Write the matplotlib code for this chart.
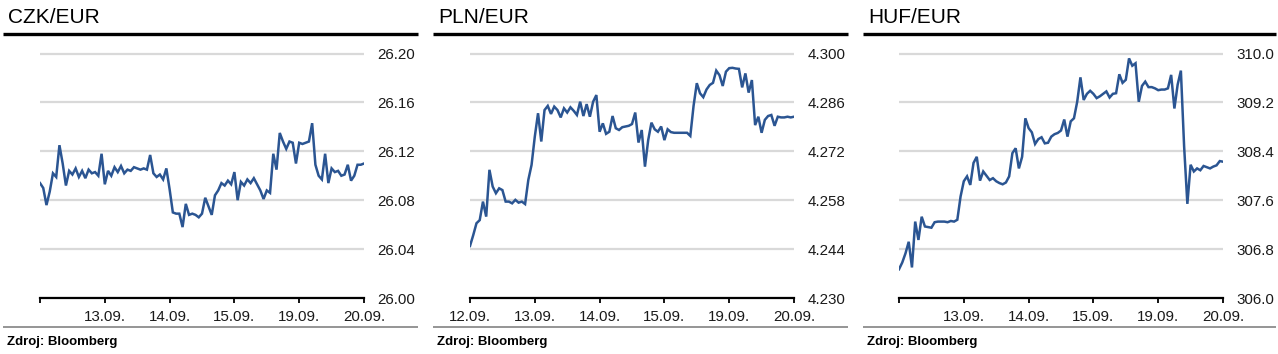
import numpy as np
import matplotlib
matplotlib.use("Agg")
import matplotlib.pyplot as plt
from matplotlib.lines import Line2D

plt.rcParams['font.family'] = ['Liberation Sans', 'DejaVu Sans']

W, H = 1278, 354

# --- data (20 samples per trading day) ---
titles = ["CZK/EUR", "PLN/EUR", "HUF/EUR"]
source = "Zdroj: Bloomberg"

day_labels_czk = ["", "13.09.", "14.09.", "15.09.", "19.09.", "20.09."]
day_labels_pln = ["12.09.", "13.09.", "14.09.", "15.09.", "19.09.", "20.09."]
day_labels_huf = ["", "13.09.", "14.09.", "15.09.", "19.09.", "20.09."]

czk_ticks = [26.00, 26.04, 26.08, 26.12, 26.16, 26.20]
pln_ticks = [4.230, 4.244, 4.258, 4.272, 4.286, 4.300]
huf_ticks = [306.0, 306.8, 307.6, 308.4, 309.2, 310.0]

czk = [
    26.094, 26.090, 26.076, 26.087, 26.102, 26.099, 26.125, 26.110, 26.092, 26.104,
    26.101, 26.106, 26.099, 26.104, 26.098, 26.105, 26.102, 26.103, 26.100, 26.118,
    26.093, 26.104, 26.100, 26.107, 26.103, 26.108, 26.102, 26.105, 26.104, 26.107,
    26.106, 26.105, 26.106, 26.105, 26.117, 26.102, 26.099, 26.101, 26.097, 26.106,
    26.089, 26.070, 26.069, 26.069, 26.058, 26.077, 26.068, 26.069, 26.068, 26.066,
    26.069, 26.082, 26.075, 26.068, 26.084, 26.088, 26.094, 26.092, 26.096, 26.093,
    26.103, 26.080, 26.095, 26.092, 26.097, 26.094, 26.098, 26.093, 26.088, 26.081,
    26.088, 26.086, 26.118, 26.105, 26.135, 26.128, 26.122, 26.128, 26.127, 26.110,
    26.127, 26.126, 26.127, 26.128, 26.143, 26.109, 26.100, 26.097, 26.118, 26.094,
    26.106, 26.103, 26.104, 26.100, 26.101, 26.109, 26.096, 26.100, 26.109, 26.109,
    26.110,
]

pln = [
    4.2449, 4.2480, 4.2514, 4.2523, 4.2576, 4.2533, 4.2667, 4.2619, 4.2600, 4.2614,
    4.2609, 4.2576, 4.2576, 4.2571, 4.2581, 4.2573, 4.2576, 4.2569, 4.2638, 4.2681,
    4.2762, 4.2829, 4.2748, 4.2838, 4.2850, 4.2827, 4.2848, 4.2838, 4.2817, 4.2843,
    4.2831, 4.2846, 4.2836, 4.2824, 4.2862, 4.2821, 4.2855, 4.2819, 4.2862, 4.2881,
    4.2776, 4.2800, 4.2770, 4.2776, 4.2821, 4.2786, 4.2781, 4.2789, 4.2791, 4.2793,
    4.2798, 4.2831, 4.2745, 4.2781, 4.2676, 4.2752, 4.2802, 4.2783, 4.2776, 4.2791,
    4.2752, 4.2783, 4.2775, 4.2773, 4.2773, 4.2773, 4.2773, 4.2773, 4.2764, 4.2850,
    4.2915, 4.2886, 4.2875, 4.2897, 4.2910, 4.2916, 4.2951, 4.2938, 4.2907, 4.2948,
    4.2958, 4.2959, 4.2957, 4.2956, 4.2903, 4.2943, 4.2888, 4.2924, 4.2795, 4.2819,
    4.2773, 4.2810, 4.2821, 4.2824, 4.2793, 4.2819, 4.2817, 4.2817, 4.2819, 4.2817,
    4.2819,
]

huf = [
    306.47, 306.58, 306.73, 306.92, 306.50, 307.25, 306.95, 307.33, 307.17, 307.16,
    307.15, 307.24, 307.25, 307.25, 307.25, 307.24, 307.26, 307.25, 307.28, 307.66,
    307.91, 307.99, 307.85, 308.21, 308.31, 307.92, 308.07, 308.00, 307.93, 307.96,
    307.91, 307.88, 307.86, 307.89, 307.99, 308.37, 308.45, 308.12, 308.31, 308.94,
    308.78, 308.71, 308.52, 308.60, 308.63, 308.53, 308.54, 308.64, 308.68, 308.70,
    308.74, 308.92, 308.64, 308.89, 308.94, 309.21, 309.61, 309.24, 309.34, 309.39,
    309.34, 309.27, 309.30, 309.34, 309.38, 309.28, 309.34, 309.35, 309.66, 309.52,
    309.57, 309.92, 309.80, 309.84, 309.21, 309.47, 309.54, 309.45, 309.45, 309.43,
    309.40, 309.41, 309.41, 309.43, 309.65, 309.10, 309.49, 309.72, 308.48, 307.54,
    308.18, 308.07, 308.12, 308.09, 308.16, 308.14, 308.12, 308.15, 308.17, 308.24,
    308.23,
]

LINE = "#2B5592"
GRID = "#d9d9d9"


def fx(px):
    return px / W


def fy(py):
    return 1 - py / H


fig = plt.figure(figsize=(W / 100, H / 100), dpi=100)

panels = [
    # offset, axes left, frame left/right, title x, series, ticks, fmt, day labels
    (0, 40, 3, 418, 8, czk, czk_ticks, "{:.2f}", day_labels_czk),
    (426, 470, 433, 848, 438, pln, pln_ticks, "{:.3f}", day_labels_pln),
    (852, 899, 863, 1276, 868, huf, huf_ticks, "{:.1f}", day_labels_huf),
]

ax_top, ax_bot, grid_top = 50, 298, 53.5

for i, (off, left, fl, fr, tx, series, ticks, fmt, days) in enumerate(panels):
    ax = fig.add_axes([fx(left), fy(ax_bot), fx(324), (ax_bot - ax_top) / H])
    x = np.linspace(0, 5, len(series))
    ax.plot(x, series, color=LINE, lw=1.8, zorder=3, solid_joinstyle="miter")

    lo, hi = ticks[0], ticks[-1]
    top = lo + (hi - lo) * (ax_bot - ax_top) / (ax_bot - grid_top)
    ax.set_ylim(lo, top)
    ax.set_xlim(0, 5)

    ax.set_yticks(ticks)
    ax.set_yticklabels([fmt.format(t) for t in ticks])
    ax.yaxis.tick_right()
    ax.tick_params(axis="y", length=0, pad=9.5, labelsize=10.9, labelcolor="#1a1a1a")
    ax.yaxis.grid(True, color=GRID, lw=1.6)
    ax.set_axisbelow(True)

    ax.set_xticks(range(6))
    ax.set_xticklabels(days)
    ax.tick_params(axis="x", length=3.5, width=1.3, direction="out", pad=5,
                   labelsize=10.9, labelcolor="#1a1a1a", color="black")

    for s in ["top", "left", "right"]:
        ax.spines[s].set_visible(False)
    ax.spines["bottom"].set_linewidth(1.6)
    ax.spines["bottom"].set_color("black")

    fig.text(fx(tx), fy(22.7), titles[i], fontsize=15, color="black",
             ha="left", va="baseline")
    fig.add_artist(Line2D([fx(fl), fx(fr)], [fy(34), fy(34)], color="black",
                          lw=2.4, solid_capstyle="butt"))
    fig.add_artist(Line2D([fx(fl), fx(fr)], [fy(327), fy(327)], color="#8c8c8c",
                          lw=1.3, solid_capstyle="butt"))
    fig.text(fx(tx - 1), fy(345), source, fontsize=9.5, fontweight="bold",
             color="black", ha="left", va="baseline")

fig.savefig("out.png", dpi=100)
